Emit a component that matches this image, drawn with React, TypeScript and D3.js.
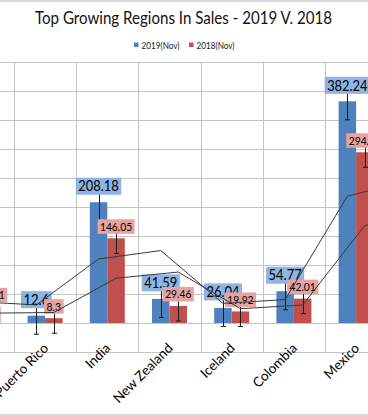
import React, { useEffect, useRef } from 'react';
import * as d3 from 'd3';

const categories = ['Peru', 'Puerto Rico', 'India', 'New Zealand', 'Iceland', 'Colombia', 'Mexico', 'Chile'];
const seriesNames = ['2019(Nov)', '2018(Nov)'];
const sales2019 = [49.85, 12.6, 208.18, 41.59, 26.04, 54.77, 382.24, 110.5];
const sales2018 = [27.91, 8.3, 146.05, 29.46, 19.92, 42.01, 294.36, 88.2];
// trend lines (2 period moving average)
const trend2019 = [37, 31.2, 110.4, 124.9, 33.8, 40.4, 218.5, 246.4];
const trend2018 = [17, 18.1, 77.2, 87.8, 24.7, 31.0, 168.2, 191.3];
const stdErr = [32, 26];
const yTicks = [-50, 0, 50, 100, 150, 200, 250, 300, 350, 400, 450];

const W = 368;
const H = 417;
const FONT = 'Lato, "Open Sans", sans-serif';
const colors = ['#4F81BD', '#C0504D'];
const labelFills = ['#8EB4E3', '#E6A3A1'];

// rough Calibri-like width of a number string, in em
const numWidth = (s: string): number =>
	s.split('').reduce((w, ch) => w + (ch === '.' ? 0.252 : 0.507), 0);

function App() {
	const ref = useRef<SVGSVGElement>(null);

	useEffect(() => {
		const svg = d3.select(ref.current);
		svg.selectAll('*').remove();

		const x = d3.scaleBand<string>().domain(categories).range([-48.2, 449.4]).padding(0);
		const bw = x.bandwidth();
		const xs = d3.scaleBand<string>().domain(seriesNames).range([bw / 2 - 17.5, bw / 2 + 17.5]).padding(0);
		const y = d3.scaleLinear().domain([-50, 450]).range([352, 62]);

		// chart border (top / bottom of the frame)
		svg.append('rect').attr('x', 0).attr('y', 0).attr('width', W).attr('height', 2).attr('fill', '#d9d9d9');
		svg.append('rect').attr('x', 0).attr('y', 414).attr('width', W).attr('height', 3).attr('fill', '#d9d9d9');

		// title
		svg.append('text')
			.attr('x', 183.5)
			.attr('y', 24)
			.attr('text-anchor', 'middle')
			.attr('font-family', FONT)
			.attr('font-size', 17)
			.attr('textLength', 297)
			.attr('lengthAdjust', 'spacingAndGlyphs')
			.attr('fill', '#111')
			.text('Top Growing Regions In Sales - 2019 V. 2018');

		// legend
		const legendX = [134, 189];
		seriesNames.forEach((s, i) => {
			svg.append('rect').attr('x', legendX[i]).attr('y', 42.5).attr('width', 4.5).attr('height', 4.5).attr('fill', colors[i]);
			svg.append('text')
				.attr('x', legendX[i] + 7.5)
				.attr('y', 48.5)
				.attr('font-family', FONT)
				.attr('font-size', 9)
				.attr('textLength', 38)
				.attr('lengthAdjust', 'spacingAndGlyphs')
				.attr('fill', '#222')
				.text(s);
		});

		// grid
		const grid = svg.append('g').attr('stroke', '#c4c4c4').attr('stroke-width', 1);
		grid.selectAll('line.h')
			.data(yTicks)
			.enter()
			.append('line')
			.attr('x1', x.range()[0])
			.attr('x2', x.range()[1])
			.attr('y1', d => Math.round(y(d)) + 0.5)
			.attr('y2', d => Math.round(y(d)) + 0.5);
		grid.selectAll('line.v')
			.data(categories)
			.enter()
			.append('line')
			.attr('x1', d => Math.round(x(d)!) + 0.5)
			.attr('x2', d => Math.round(x(d)!) + 0.5)
			.attr('y1', y(450))
			.attr('y2', y(-50));

		const values = [sales2019, sales2018];
		const trends = [trend2019, trend2018];

		// bars
		seriesNames.forEach((s, si) => {
			svg.append('g')
				.selectAll('rect')
				.data(categories)
				.enter()
				.append('rect')
				.attr('x', d => x(d)! + xs(s)!)
				.attr('width', xs.bandwidth())
				.attr('y', (d, i) => y(values[si][i]))
				.attr('height', (d, i) => y(0) - y(values[si][i]))
				.attr('fill', colors[si]);
		});

		// error bars
		seriesNames.forEach((s, si) => {
			const eg = svg.append('g').attr('stroke', '#1a1a1a').attr('stroke-width', 1);
			categories.forEach((c, i) => {
				const cx = Math.round(x(c)! + xs(s)! + xs.bandwidth() / 2) + 0.5;
				const v = values[si][i];
				const y1 = y(v + stdErr[si]);
				const y2 = y(v - stdErr[si]);
				eg.append('line').attr('x1', cx).attr('x2', cx).attr('y1', y1).attr('y2', y2);
				eg.append('line').attr('x1', cx - 2.5).attr('x2', cx + 2.5).attr('y1', y1).attr('y2', y1);
				eg.append('line').attr('x1', cx - 2.5).attr('x2', cx + 2.5).attr('y1', y2).attr('y2', y2);
			});
		});

		// data labels
		const fontSizes = [14.5, 11.5];
		const boxH = [17, 14.5];
		const gap = [7.5, 4.5];
		seriesNames.forEach((s, si) => {
			const lg = svg.append('g');
			categories.forEach((c, i) => {
				const cx = x(c)! + xs(s)! + xs.bandwidth() / 2;
				const v = values[si][i];
				const label = String(v);
				const tw = numWidth(label) * fontSizes[si];
				const bottom = y(v) - gap[si];
				const pad = 2.5;
				lg.append('rect')
					.attr('fill', labelFills[si])
					.attr('x', cx - tw / 2 - pad)
					.attr('width', tw + pad * 2)
					.attr('y', bottom - boxH[si])
					.attr('height', boxH[si]);
				lg.append('text')
					.attr('x', cx)
					.attr('y', bottom - boxH[si] / 2 + fontSizes[si] * 0.36)
					.attr('text-anchor', 'middle')
					.attr('font-family', FONT)
					.attr('font-size', fontSizes[si])
					.attr('textLength', tw)
					.attr('lengthAdjust', 'spacingAndGlyphs')
					.attr('fill', '#000')
					.text(label);
			});
		});

		// trend lines
		seriesNames.forEach((s, si) => {
			const line = d3.line<number>()
				.x((d, i) => x(categories[i])! + xs(s)! + xs.bandwidth() / 2)
				.y(d => y(d));
			svg.append('path')
				.attr('d', line(trends[si]) as string)
				.attr('fill', 'none')
				.attr('stroke', '#3a3a3a')
				.attr('stroke-width', 1);
		});

		// category labels
		svg.append('g')
			.selectAll('text')
			.data(categories)
			.enter()
			.append('text')
			.attr('transform', d => `translate(${x(d)! + bw / 2 + 4}, 349) rotate(-45)`)
			.attr('text-anchor', 'end')
			.attr('font-family', FONT)
			.attr('font-size', 13.5)
			.attr('fill', '#000')
			.text(d => d);
	}, []);

	return (
		<div style={{ position: 'absolute', left: 0, top: 0 }}>
			<svg ref={ref} width={W} height={H} style={{ display: 'block', background: '#fff' }} />
		</div>
	);
}

export default App;
